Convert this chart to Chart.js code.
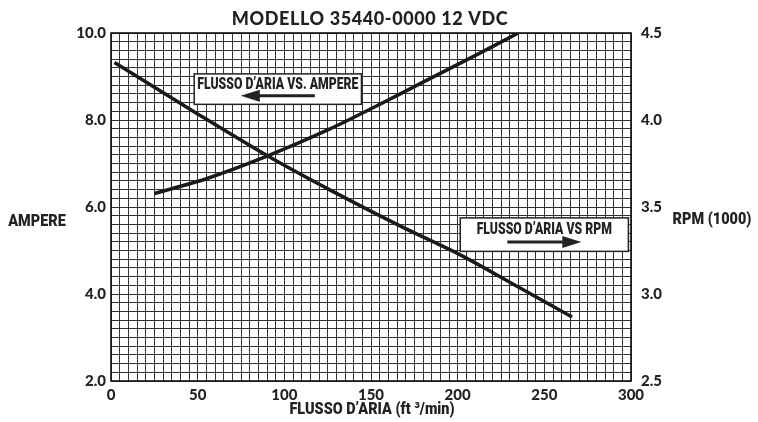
<!DOCTYPE html>
<html>
<head>
<meta charset="utf-8">
<script src="https://cdn.jsdelivr.net/npm/chart.js@4.4.0/dist/chart.umd.min.js"></script>
<style>
  html, body { margin: 0; padding: 0; background: #fff; }
  #wrap { width: 758px; height: 422px; }
</style>
</head>
<body>
<div id="wrap"><canvas id="myChart" width="758" height="422"></canvas></div>
<script>
const chartTitle = "MODELLO 35440-0000 12 VDC";
const xTitle = "FLUSSO D\u2019ARIA (ft \u00b3/min)";
const leftTitle = "AMPERE";
const rightTitle = "RPM (1000)";

// flusso d'aria vs ampere (asse sinistro)
const ampereFlow = [25, 55, 90, 126, 152, 184, 210, 235];
const ampereValues = [6.31, 6.65, 7.17, 7.79, 8.3, 8.95, 9.48, 10.0];

// flusso d'aria vs rpm (asse destro, x1000)
const rpmFlow = [2, 50, 91, 126.5, 167, 201.5, 235, 266];
const rpmValues = [4.33, 4.035, 3.79, 3.597, 3.39, 3.225, 3.04, 2.868];

// etichette dei riquadri: [xmin, xmax, ymin, ymax] in unita' degli assi x / ampere
const ampereBox = [48, 144.5, 8.36, 9.06];
const rpmBox = [201.5, 298.5, 4.98, 5.75];

const narrowFont = "Roboto, 'Open Sans', sans-serif";

// testo bold "condensato" (nessun font narrow disponibile)
function narrowText(c, text, x, y, size, sx) {
  c.save();
  c.font = "900 " + size + "px " + narrowFont;
  c.textAlign = 'center';
  c.textBaseline = 'middle';
  c.translate(x, y);
  c.scale(sx, 1);
  c.fillText(text, 0, 0);
  c.restore();
}

const decorPlugin = {
  id: 'decor',
  afterDraw(chart) {
    const c = chart.ctx;
    const a = chart.chartArea;
    const xs = chart.scales.x, ys = chart.scales.y;
    c.save();
    // cornice
    c.strokeStyle = '#111';
    c.lineWidth = 1.6;
    c.strokeRect(a.left, a.top, a.right - a.left, a.bottom - a.top);

    // titolo
    c.fillStyle = '#222';
    c.font = "900 18px Lato, 'Open Sans', sans-serif";
    c.letterSpacing = '0.6px';
    c.textAlign = 'center';
    c.textBaseline = 'middle';
    c.fillText(chartTitle, 370, 19);
    c.letterSpacing = '0px';

    // titoli assi
    narrowText(c, leftTitle, 37, 222, 17, 0.85);
    narrowText(c, rightTitle, 712, 220, 17, 0.85);
    narrowText(c, xTitle, 372, 410, 17, 0.85);

    // riquadri con freccia
    function box(b, text, dir) {
      const x0 = xs.getPixelForValue(b[0]), x1 = xs.getPixelForValue(b[1]);
      const y0 = ys.getPixelForValue(b[3]), y1 = ys.getPixelForValue(b[2]);
      c.fillStyle = '#fff';
      c.fillRect(x0, y0, x1 - x0, y1 - y0);
      c.strokeStyle = '#222';
      c.lineWidth = 1.5;
      c.strokeRect(x0, y0, x1 - x0, y1 - y0);
      c.fillStyle = '#222';
      const cx = (x0 + x1) / 2;
      narrowText(c, text, cx, y0 + (y1 - y0) * 0.36, 17, 0.72);
      const ay = y0 + (y1 - y0) * 0.72;
      const len = 70;
      const tip = dir < 0 ? cx - len / 2 - 2 : cx + len / 2 + 2;
      const tail = dir < 0 ? cx + len / 2 + 2 : cx - len / 2 - 2;
      c.lineWidth = 3;
      c.beginPath();
      c.moveTo(tail, ay);
      c.lineTo(tip - dir * 14, ay);
      c.stroke();
      c.beginPath();
      c.moveTo(tip, ay);
      c.lineTo(tip - dir * 19, ay - 6);
      c.lineTo(tip - dir * 19, ay + 6);
      c.closePath();
      c.fill();
    }
    box(ampereBox, "FLUSSO D\u2019ARIA VS. AMPERE", -1);
    box(rpmBox, "FLUSSO D\u2019ARIA VS RPM", 1);
    c.restore();
  }
};

const tickFont = { family: "Lato, 'Open Sans', sans-serif", size: 15, weight: '900' };

const ctx = document.getElementById("myChart").getContext("2d");
const chart = new Chart(ctx, {
  type: "line",
  data: {
    datasets: [
      {
        label: "Ampere",
        data: ampereFlow.map((f, i) => ({ x: f, y: ampereValues[i] })),
        yAxisID: 'y',
        borderColor: "#1a1a1a",
        borderWidth: 3.5,
        pointRadius: 0,
        tension: 0.3,
        fill: false
      },
      {
        label: "RPM",
        data: rpmFlow.map((f, i) => ({ x: f, y: rpmValues[i] })),
        yAxisID: 'y1',
        borderColor: "#1a1a1a",
        borderWidth: 3.5,
        pointRadius: 0,
        tension: 0.3,
        fill: false
      }
    ]
  },
  options: {
    responsive: false,
    animation: false,
    layout: { padding: { top: 33, left: 0, right: 0, bottom: 0 } },
    plugins: { legend: { display: false }, tooltip: { enabled: false } },
    scales: {
      x: {
        type: 'linear',
        min: 0, max: 300,
        afterFit: s => { s.height = 41; },
        grid: { color: '#333', lineWidth: 1, drawTicks: false },
        border: { display: false },
        ticks: {
          stepSize: 5, autoSkip: false, maxRotation: 0, padding: 5,
          color: '#222', font: tickFont,
          callback: v => (Math.abs(v % 50) < 1e-6 ? String(v) : '')
        }
      },
      y: {
        position: 'left',
        min: 2, max: 10,
        afterFit: s => { s.width = 111; },
        grid: { color: '#333', lineWidth: 1, drawTicks: false },
        border: { display: false },
        ticks: {
          stepSize: 0.2, autoSkip: false, padding: 5,
          color: '#222', font: tickFont,
          callback: v => (Math.abs(v / 2 - Math.round(v / 2)) < 1e-6 ? v.toFixed(1) : '')
        }
      },
      y1: {
        position: 'right',
        min: 2.5, max: 4.5,
        afterFit: s => { s.width = 127; },
        grid: { display: false, drawTicks: false },
        border: { display: false },
        ticks: {
          stepSize: 0.5, padding: 10,
          color: '#222', font: tickFont,
          callback: v => v.toFixed(1)
        }
      }
    }
  },
  plugins: [decorPlugin]
});
</script>
</body>
</html>
